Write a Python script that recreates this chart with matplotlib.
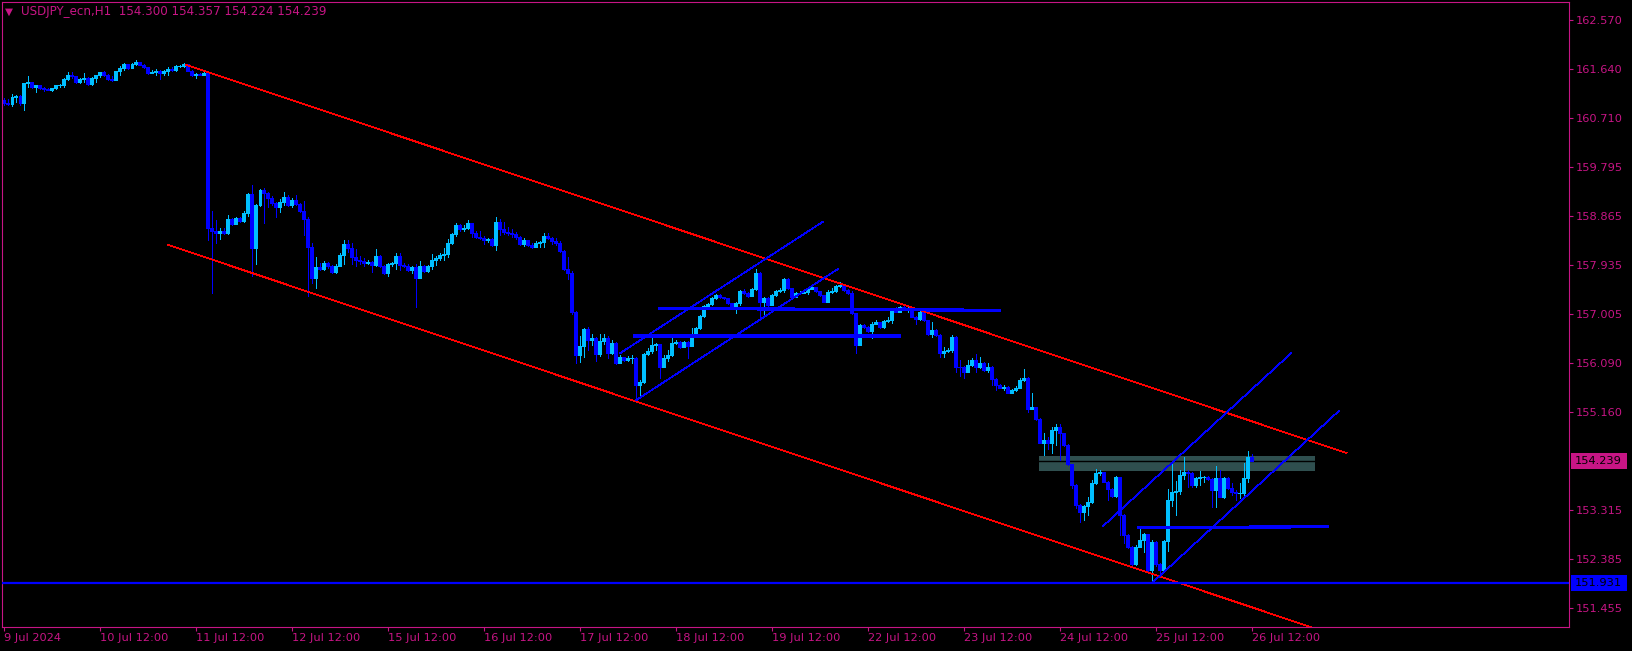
import numpy as np
import matplotlib
matplotlib.use('Agg')
import matplotlib.pyplot as plt
from matplotlib.patches import Rectangle
import matplotlib.transforms as mtransforms

# 1小时K线 USDJPY, 9 Jul 12:00 起
first_open = 161.06
closes = [
    161.00, 160.98, 161.12, 161.13, 161.00, 161.37, 161.40, 161.30, 161.33, 161.28,
    161.26, 161.25, 161.28, 161.33, 161.34, 161.46, 161.53, 161.50, 161.40, 161.45,
    161.48, 161.35, 161.48, 161.52, 161.59, 161.52, 161.46, 161.43, 161.60, 161.66,
    161.74, 161.66, 161.74, 161.78, 161.72, 161.67, 161.56, 161.58, 161.60, 161.56,
    161.60, 161.64, 161.62, 161.69, 161.70, 161.74, 161.61, 161.52, 161.55, 161.53,
    161.56, 158.64, 158.58, 158.55, 158.58, 158.55, 158.81, 158.71, 158.83, 158.76,
    158.92, 159.27, 158.26, 159.07, 159.35, 159.29, 159.20, 159.10, 159.03, 159.13,
    159.22, 159.08, 159.17, 159.09, 158.96, 158.80, 158.28, 157.70, 157.90, 157.86,
    157.97, 157.91, 157.81, 157.92, 158.13, 158.33, 158.26, 158.08, 158.04, 158.01,
    157.97, 158.00, 157.94, 158.11, 157.91, 157.79, 157.96, 157.97, 158.11, 157.94,
    157.92, 157.84, 157.89, 157.70, 157.92, 157.82, 157.92, 158.04, 158.07, 158.13,
    158.15, 158.36, 158.52, 158.69, 158.62, 158.64, 158.73, 158.55, 158.47, 158.45,
    158.40, 158.43, 158.32, 158.75, 158.62, 158.56, 158.55, 158.52, 158.46, 158.33,
    158.40, 158.32, 158.28, 158.35, 158.37, 158.48, 158.45, 158.39, 158.36, 158.21,
    157.86, 157.79, 157.05, 156.23, 156.41, 156.73, 156.51, 156.56, 156.26, 156.50,
    156.55, 156.27, 156.47, 156.09, 156.19, 156.15, 156.17, 156.18, 155.66, 155.73,
    156.26, 156.31, 156.42, 156.44, 156.01, 156.18, 156.24, 156.47, 156.49, 156.38,
    156.48, 156.41, 156.58, 156.74, 156.97, 157.16, 157.20, 157.31, 157.37, 157.33,
    157.31, 157.21, 157.16, 157.21, 157.44, 157.40, 157.35, 157.48, 157.78, 157.24,
    157.31, 157.18, 157.37, 157.44, 157.46, 157.67, 157.50, 157.34, 157.40, 157.41,
    157.43, 157.48, 157.52, 157.44, 157.37, 157.24, 157.43, 157.44, 157.54, 157.55,
    157.46, 157.41, 157.02, 156.42, 156.80, 156.76, 156.68, 156.83, 156.85, 156.76,
    156.87, 156.90, 157.07, 157.05, 157.14, 157.12, 157.13, 156.96, 156.91, 157.04,
    156.89, 156.63, 156.71, 156.61, 156.27, 156.31, 156.33, 156.57, 156.01, 156.00,
    155.92, 156.05, 156.14, 156.00, 156.08, 155.95, 156.00, 155.78, 155.67, 155.62,
    155.64, 155.52, 155.57, 155.62, 155.76, 155.81, 155.22, 155.25, 155.03, 154.58,
    154.63, 154.57, 154.82, 154.87, 154.76, 154.53, 154.17, 153.78, 153.40, 153.26,
    153.38, 153.46, 153.82, 154.01, 154.02, 153.84, 153.70, 153.57, 153.92, 153.21,
    152.83, 152.61, 152.29, 152.61, 152.74, 152.85, 152.17, 152.71, 152.29, 152.18,
    152.72, 153.50, 153.65, 153.66, 153.97, 154.03, 154.00, 153.77, 153.91, 153.92,
    153.93, 153.89, 153.68, 153.91, 153.56, 153.91, 153.72, 153.65, 153.62, 153.63,
    153.91, 154.30, 154.239,
]
highs = [
    161.09, 161.07, 161.17, 161.15, 161.15, 161.38, 161.51, 161.40, 161.34, 161.34,
    161.30, 161.29, 161.29, 161.34, 161.36, 161.47, 161.58, 161.58, 161.51, 161.47,
    161.56, 161.49, 161.49, 161.53, 161.59, 161.61, 161.55, 161.50, 161.60, 161.69,
    161.75, 161.74, 161.76, 161.81, 161.77, 161.74, 161.64, 161.62, 161.64, 161.62,
    161.62, 161.67, 161.67, 161.71, 161.71, 161.76, 161.74, 161.62, 161.57, 161.57,
    161.59, 161.55, 158.96, 158.79, 158.63, 158.64, 158.88, 158.83, 158.84, 158.84,
    158.95, 159.29, 159.45, 159.09, 159.37, 159.39, 159.32, 159.24, 159.13, 159.19,
    159.32, 159.26, 159.20, 159.26, 159.11, 159.14, 158.85, 158.35, 158.08, 157.97,
    158.02, 158.00, 157.94, 157.96, 158.16, 158.40, 158.40, 158.35, 158.23, 158.11,
    158.07, 158.04, 158.01, 158.23, 158.13, 157.94, 157.98, 158.00, 158.16, 158.16,
    157.97, 157.96, 157.92, 157.96, 158.01, 157.94, 157.94, 158.14, 158.11, 158.16,
    158.25, 158.42, 158.54, 158.73, 158.71, 158.69, 158.79, 158.73, 158.58, 158.57,
    158.48, 158.45, 158.45, 158.85, 158.80, 158.75, 158.65, 158.61, 158.56, 158.48,
    158.44, 158.41, 158.35, 158.39, 158.39, 158.55, 158.55, 158.47, 158.45, 158.39,
    158.22, 158.09, 157.82, 157.07, 156.60, 156.74, 156.77, 156.63, 156.58, 156.63,
    156.63, 156.60, 156.52, 156.48, 156.24, 156.20, 156.22, 156.24, 156.20, 155.76,
    156.27, 156.37, 156.58, 156.46, 156.35, 156.24, 156.33, 156.58, 156.52, 156.50,
    156.50, 156.50, 156.74, 156.77, 156.99, 157.18, 157.22, 157.33, 157.39, 157.38,
    157.34, 157.31, 157.22, 157.24, 157.46, 157.48, 157.43, 157.50, 157.86, 157.80,
    157.33, 157.33, 157.39, 157.46, 157.50, 157.69, 157.69, 157.50, 157.43, 157.44,
    157.46, 157.50, 157.54, 157.52, 157.44, 157.37, 157.46, 157.50, 157.56, 157.61,
    157.55, 157.48, 157.44, 157.03, 156.82, 156.82, 156.78, 156.86, 156.90, 156.86,
    156.90, 156.95, 157.11, 157.14, 157.16, 157.18, 157.16, 157.14, 156.97, 157.07,
    157.07, 156.90, 156.85, 156.73, 156.63, 156.39, 156.37, 156.61, 156.60, 156.14,
    156.03, 156.15, 156.18, 156.26, 156.19, 156.10, 156.08, 156.03, 155.80, 155.69,
    155.67, 155.65, 155.59, 155.65, 155.81, 155.98, 155.82, 155.51, 155.25, 155.05,
    154.77, 154.68, 154.88, 154.94, 154.93, 154.76, 154.55, 154.17, 153.80, 153.42,
    153.40, 153.56, 153.87, 154.09, 154.06, 154.02, 153.85, 153.72, 153.95, 153.93,
    153.23, 152.85, 152.63, 152.64, 152.96, 152.87, 152.85, 152.74, 152.72, 152.30,
    152.74, 153.70, 154.19, 153.86, 154.06, 154.30, 154.06, 154.02, 153.93, 154.05,
    153.95, 153.95, 153.91, 154.14, 154.07, 153.93, 153.93, 153.82, 153.68, 153.81,
    154.19, 154.42, 154.357,
]
lows = [
    160.96, 160.96, 160.94, 161.02, 160.96, 160.87, 161.31, 161.28, 161.21, 161.26,
    161.23, 161.24, 161.23, 161.26, 161.30, 161.31, 161.43, 161.47, 161.37, 161.37,
    161.40, 161.34, 161.34, 161.40, 161.49, 161.51, 161.44, 161.42, 161.43, 161.52,
    161.62, 161.65, 161.66, 161.71, 161.71, 161.66, 161.55, 161.56, 161.53, 161.46,
    161.53, 161.52, 161.61, 161.61, 161.67, 161.67, 161.60, 161.51, 161.47, 161.52,
    161.52, 158.41, 157.41, 158.35, 158.43, 158.52, 158.52, 158.69, 158.71, 158.75,
    158.75, 158.87, 157.72, 157.96, 159.05, 158.74, 159.04, 159.07, 158.85, 158.94,
    159.07, 159.05, 159.03, 159.07, 158.94, 158.50, 157.35, 157.60, 157.50, 157.84,
    157.84, 157.88, 157.79, 157.78, 157.99, 157.96, 158.18, 157.96, 157.91, 157.96,
    157.91, 157.96, 157.81, 157.92, 157.89, 157.77, 157.73, 157.92, 157.87, 157.85,
    157.89, 157.82, 157.79, 157.14, 157.69, 157.81, 157.81, 157.87, 157.94, 158.03,
    158.03, 158.09, 158.33, 158.49, 158.57, 158.58, 158.62, 158.46, 158.45, 158.42,
    158.33, 158.37, 158.30, 158.22, 158.51, 158.52, 158.51, 158.47, 158.42, 158.31,
    158.30, 158.30, 158.25, 158.28, 158.28, 158.28, 158.42, 158.33, 158.31, 158.18,
    157.84, 157.68, 157.01, 156.08, 156.10, 156.20, 156.33, 156.42, 156.13, 156.22,
    156.44, 156.17, 156.26, 156.07, 156.08, 156.12, 156.12, 156.08, 155.40, 155.45,
    155.71, 156.24, 156.27, 156.33, 155.80, 156.01, 156.12, 156.22, 156.44, 156.37,
    156.39, 156.18, 156.41, 156.58, 156.73, 156.95, 157.14, 157.18, 157.29, 157.31,
    157.29, 157.20, 157.14, 157.03, 157.18, 157.39, 157.33, 157.35, 157.46, 156.96,
    156.96, 157.16, 157.23, 157.35, 157.43, 157.43, 157.48, 157.31, 157.34, 157.39,
    157.41, 157.39, 157.48, 157.43, 157.35, 157.23, 157.23, 157.41, 157.43, 157.52,
    157.44, 157.39, 157.01, 156.27, 156.42, 156.75, 156.67, 156.55, 156.82, 156.75,
    156.75, 156.86, 156.84, 157.04, 157.05, 157.11, 157.05, 156.95, 156.82, 156.90,
    156.88, 156.61, 156.57, 156.59, 156.19, 156.19, 156.29, 156.29, 155.92, 155.83,
    155.81, 155.91, 156.03, 155.92, 155.99, 155.93, 155.92, 155.67, 155.57, 155.61,
    155.57, 155.51, 155.51, 155.56, 155.61, 155.74, 155.16, 155.21, 155.01, 154.57,
    154.35, 154.45, 154.39, 154.53, 154.25, 154.52, 154.16, 153.72, 153.34, 153.08,
    153.12, 153.21, 153.44, 153.80, 153.97, 153.83, 153.50, 153.55, 153.55, 152.83,
    152.68, 152.59, 152.27, 152.27, 152.61, 152.52, 152.13, 151.95, 152.25, 152.04,
    152.17, 152.54, 153.38, 153.21, 153.61, 153.89, 153.74, 153.74, 153.74, 153.78,
    153.83, 153.87, 153.36, 153.36, 153.55, 153.53, 153.70, 153.59, 153.50, 153.53,
    153.55, 153.84, 154.224,
]

date_bars = [0, 24, 48, 72, 96, 120, 144, 168, 192, 216, 240, 264, 288, 312]
date_labels = ['9 Jul 2024', '10 Jul 12:00', '11 Jul 12:00', '12 Jul 12:00',
               '15 Jul 12:00', '16 Jul 12:00', '17 Jul 12:00', '18 Jul 12:00',
               '19 Jul 12:00', '22 Jul 12:00', '23 Jul 12:00', '24 Jul 12:00',
               '25 Jul 12:00', '26 Jul 12:00']
price_ticks = [162.570, 161.640, 160.710, 159.795, 158.865, 157.935, 157.005,
               156.090, 155.160, 153.315, 152.385, 151.455]

# 图上对象 (K线序号, 价格)
red_upper_bars, red_upper_px = [45.5, 335.75], [161.725, 154.383]
red_lower_bars, red_lower_px = [41.0, 331.3], [158.319, 150.98]
ch1_upper_bars, ch1_upper_px = [154.1, 204.8], [156.268, 158.753]
ch1_lower_bars, ch1_lower_px = [158.2, 208.7], [155.385, 157.867]
ch2_upper_bars, ch2_upper_px = [274.9, 321.85], [153.003, 156.268]
ch2_lower_bars, ch2_lower_px = [287.3, 333.8], [151.939, 155.177]
lvl_a_bars, lvl_a_px = [163.9, 248.9], [157.118, 157.080]
lvl_b_bars, lvl_b_px = [157.85, 223.9], [156.600, 156.600]
lvl_c_bars, lvl_c_px = [283.85, 330.9], [152.971, 152.990]
hline_price = 151.931
zone_bars = [258.9, 327.9]
zone_px = [154.043, 154.326]
bid = 154.239

MAG = '#C71585'
BULL = '#00BFFF'
BEAR = '#0000FF'

c = np.array(closes)
o = np.concatenate([[first_open], c[:-1]])
h = np.maximum(np.array(highs), np.maximum(o, c))
l = np.minimum(np.array(lows), np.minimum(o, c))
x = np.arange(len(c))
cols = np.where(c >= o, BULL, BEAR)

fig = plt.figure(figsize=(16.33, 6.51), dpi=100, facecolor='black')
ax = fig.add_axes([2 / 1633, 24 / 651, 1567 / 1633, 625 / 651])
ax.set_facecolor('black')
ax.set_xlim(-0.4, 391.35)
ax.set_ylim(151.094, 162.908)

# 区域矩形和bid线
ax.add_patch(Rectangle((zone_bars[0], zone_px[0]), zone_bars[1] - zone_bars[0],
                       zone_px[1] - zone_px[0], facecolor='#2F4F4F', edgecolor='none', zorder=1))
ax.axhline(bid, color='black', lw=1.0, zorder=1.5)

# K线
ax.vlines(x, l, h, colors=cols, lw=0.6, zorder=2, antialiased=False)
ax.bar(x, c - o, bottom=o, width=0.55, color=cols, edgecolor=cols, linewidth=0.6,
       zorder=2.1, antialiased=False)

# 趋势线
for bx, py in [(red_upper_bars, red_upper_px), (red_lower_bars, red_lower_px)]:
    ax.plot(bx, py, color='#FF0000', lw=0.5, zorder=3, antialiased=False)
for bx, py in [(ch1_upper_bars, ch1_upper_px), (ch1_lower_bars, ch1_lower_px),
               (ch2_upper_bars, ch2_upper_px), (ch2_lower_bars, ch2_lower_px)]:
    ax.plot(bx, py, color='#0000FF', lw=0.5, zorder=3, antialiased=False)
for bx, py in [(lvl_a_bars, lvl_a_px), (lvl_b_bars, lvl_b_px), (lvl_c_bars, lvl_c_px)]:
    ax.plot(bx, py, color='#0000FF', lw=1.6, zorder=3, antialiased=False)
ax.axhline(hline_price, color='#0000FF', lw=1.6, zorder=3)

# 坐标轴
for s in ax.spines.values():
    s.set_color(MAG)
    s.set_linewidth(0.8)
ax.yaxis.tick_right()
ax.set_yticks(price_ticks)
ax.set_yticklabels(['%.3f' % p for p in price_ticks])
ax.set_xticks(date_bars)
ax.set_xticklabels(date_labels, ha='left')
ax.tick_params(axis='both', colors=MAG, labelcolor=MAG, length=3, width=0.8,
               labelsize=8.2)
ax.tick_params(axis='y', pad=2)
ax.tick_params(axis='x', pad=1)

# 右侧价格标签
trans = mtransforms.blended_transform_factory(ax.transAxes, ax.transData)
box_h = 16 * (162.908 - 151.094) / 625
x0 = (1571 - 2) / 1567
x1 = (1627 - 2) / 1567
for price, fc in [(bid, MAG), (hline_price, '#0000FF')]:
    ax.add_patch(Rectangle((x0, price - box_h / 2), x1 - x0, box_h, transform=trans,
                           facecolor=fc, edgecolor='none', clip_on=False, zorder=5))
    ax.text((1575 - 2) / 1567, price, '%.3f' % price, transform=trans, color='black',
            fontsize=8.2, ha='left', va='center', clip_on=False, zorder=6)

# 标题
fig.text(5 / 1633, 1 - 12 / 651, '\u25bc', color=MAG, fontsize=7.5, ha='left', va='center')
fig.text(21 / 1633, 1 - 12 / 651, 'USDJPY_ecn,H1  154.300 154.357 154.224 154.239',
         color=MAG, fontsize=8.6, ha='left', va='center')

fig.savefig('out.png', dpi=100, facecolor='black')
